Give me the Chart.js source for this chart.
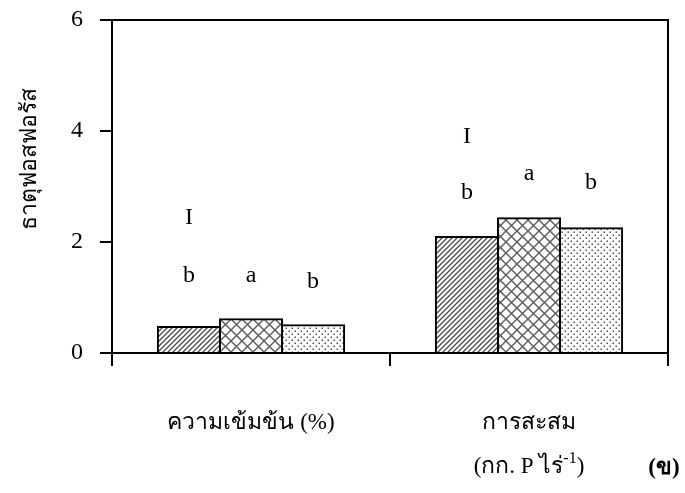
<!DOCTYPE html>
<html>
<head>
<meta charset="utf-8">
<script src="https://cdn.jsdelivr.net/npm/chart.js@4"></script>
<style>
  html, body { margin: 0; padding: 0; background: #fff; }
  #wrap { width: 685px; height: 493px; position: relative; }
</style>
</head>
<body>
<div id="wrap"><canvas id="c" width="685" height="493"></canvas></div>
<script>
// categories + series
const categories = ["ความเข้มข้น (%)", "การสะสม"];
const unitLine = ["(กก. P ไร่", "-1", ")"];   // second line under category 2, with superscript
const panelTag = "(ข)";
const yTitle = "ธาตุฟอสฟอรัส";
const yTicks = [0, 2, 4, 6];

const seriesNames = ["T1", "T2", "T3"];
const seriesA = [0.47, 2.09];
const seriesB = [0.61, 2.43];
const seriesC = [0.50, 2.25];

// significance letters and their heights (y units), per series
const lettersA = ["b", "b"], lettersB = ["a", "a"], lettersC = ["b", "b"];
const letterYA = [1.39, 2.88], letterYB = [1.39, 3.23], letterYC = [1.28, 3.06];
const lsdY = [2.43, 3.89];   // the "I" marks, above first bar of each group

const SERIF = "'Liberation Serif', 'Times New Roman', serif";

// ── fill patterns ────────────────────────────────────────────────────
function tile(size, draw) {
  const c = document.createElement("canvas");
  c.width = c.height = size;
  const g = c.getContext("2d");
  g.fillStyle = "#fff"; g.fillRect(0, 0, size, size);
  draw(g, size);
  return g.createPattern(c, "repeat");
}
const hatch = tile(5, (g, s) => {
  g.strokeStyle = "#4a4a4a"; g.lineWidth = 1.3;
  g.beginPath();
  g.moveTo(-1, s + 1); g.lineTo(s + 1, -1);
  g.moveTo(-1, 1); g.lineTo(1, -1);
  g.moveTo(s - 1, s + 1); g.lineTo(s + 1, s - 1);
  g.stroke();
});
const cross = tile(11, (g, s) => {
  g.strokeStyle = "#5a5a5a"; g.lineWidth = 1.4;
  g.beginPath();
  g.moveTo(0, 0); g.lineTo(s, s);
  g.moveTo(0, s); g.lineTo(s, 0);
  g.stroke();
});
const dots = tile(6, (g) => {
  g.fillStyle = "#555";
  g.fillRect(0.5, 0.5, 1.5, 1.5);
  g.fillRect(3.5, 3.5, 1.5, 1.5);
});

// ── extra drawing: frame, letters, labels ────────────────────────────
const extras = {
  id: "extras",
  afterDraw(chart) {
    const { ctx, chartArea: a, scales: { x, y } } = chart;
    ctx.save();
    ctx.strokeStyle = "#000"; ctx.lineWidth = 2;
    ctx.strokeRect(a.left, a.top, a.right - a.left, a.bottom - a.top);

    ctx.fillStyle = "#000";
    ctx.textAlign = "center"; ctx.textBaseline = "middle";
    ctx.font = `24px ${SERIF}`;
    const sets = [[lettersA, letterYA], [lettersB, letterYB], [lettersC, letterYC]];
    sets.forEach(([lab, ly], d) => {
      chart.getDatasetMeta(d).data.forEach((bar, i) => {
        ctx.fillText(lab[i], bar.x, y.getPixelForValue(ly[i]));
      });
    });
    chart.getDatasetMeta(0).data.forEach((bar, i) => {
      ctx.fillText("I", bar.x, y.getPixelForValue(lsdY[i]));
    });

    // category labels
    ctx.font = `23px ${SERIF}`;
    categories.forEach((c, i) => ctx.fillText(c, x.getPixelForValue(i), 423));
    // unit line with superscript
    const cx = x.getPixelForValue(1);
    ctx.textAlign = "left";
    const w0 = ctx.measureText(unitLine[0]).width;
    ctx.font = `16px ${SERIF}`;
    const w1 = ctx.measureText(unitLine[1]).width;
    ctx.font = `23px ${SERIF}`;
    const w2 = ctx.measureText(unitLine[2]).width;
    let sx = cx - (w0 + w1 + w2) / 2;
    ctx.fillText(unitLine[0], sx, 467); sx += w0;
    ctx.font = `16px ${SERIF}`;
    ctx.fillText(unitLine[1], sx, 459); sx += w1;
    ctx.font = `23px ${SERIF}`;
    ctx.fillText(unitLine[2], sx, 467);

    ctx.font = `bold 23px ${SERIF}`;
    ctx.textAlign = "center";
    ctx.fillText(panelTag, 664, 468);

    // y title
    ctx.translate(30, 159);
    ctx.rotate(-Math.PI / 2);
    ctx.font = `23px ${SERIF}`;
    ctx.fillText(yTitle, 0, 0);
    ctx.restore();
  }
};

const fills = [hatch, cross, dots];
const series = [seriesA, seriesB, seriesC];

new Chart(document.getElementById("c"), {
  type: "bar",
  data: {
    labels: categories,
    datasets: series.map((s, i) => ({
      label: seriesNames[i], data: s,
      backgroundColor: fills[i], borderColor: "#000", borderWidth: 2,
      borderSkipped: "bottom", inflateAmount: 1,
      categoryPercentage: 0.67, barPercentage: 1.0,
    })),
  },
  options: {
    responsive: false, animation: false, devicePixelRatio: 1,
    layout: { padding: { left: 0, right: 17, top: 20, bottom: 0 }, autoPadding: false },
    plugins: { legend: { display: false }, tooltip: { enabled: false } },
    scales: {
      x: {
        grid: { offset: true, drawOnChartArea: false, tickLength: 13, color: "#000", lineWidth: 2 },
        border: { display: true, color: "#000", width: 2 },
        ticks: { display: false },
        afterFit: s => { s.height = 140; s.paddingLeft = 0; s.paddingRight = 0; },
      },
      y: {
        min: 0, max: 6,
        afterBuildTicks: s => { s.ticks = yTicks.map(v => ({ value: v })); },
        grid: { drawOnChartArea: false, tickLength: 12, color: "#000", lineWidth: 2 },
        border: { display: true, color: "#000", width: 2 },
        ticks: { color: "#000", padding: 17, font: { family: SERIF, size: 24 } },
        afterFit: s => { s.width = 112; s.paddingTop = 0; s.paddingBottom = 0; },
      },
    },
  },
  plugins: [extras],
});
</script>
</body>
</html>
